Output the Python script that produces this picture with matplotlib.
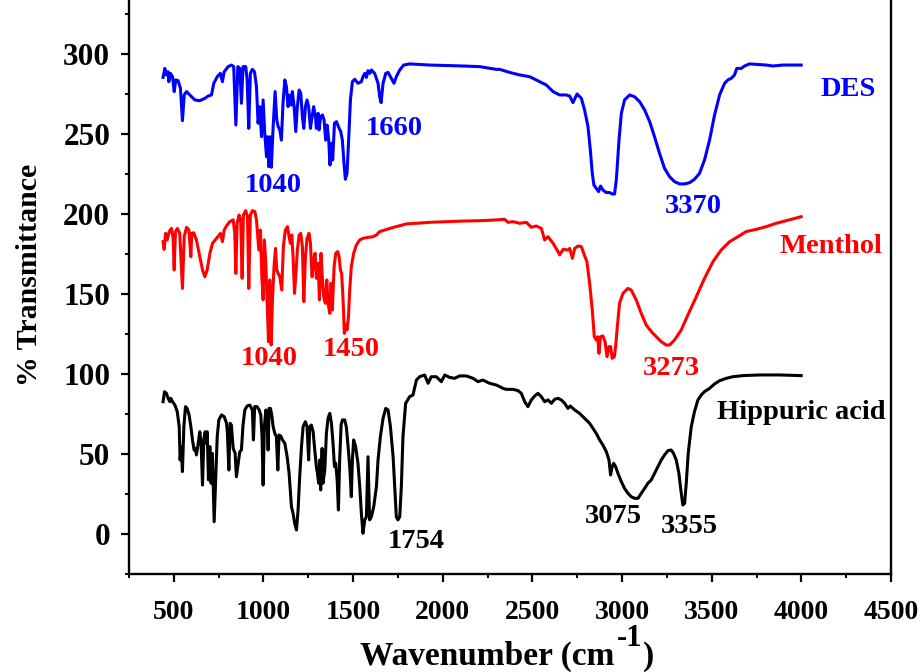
import matplotlib
matplotlib.use("Agg")
import matplotlib.pyplot as plt
from matplotlib.ticker import MultipleLocator

plt.rcParams['font.family'] = ['Liberation Serif', 'DejaVu Serif']
plt.rcParams['font.weight'] = 'bold'

# ---------------- data (wavenumber cm-1, % transmittance, offset as plotted) ----------------
des_wn = [440, 450, 459, 468, 472, 481, 493, 502, 511, 524, 537, 548, 558, 571, 589, 617, 645, 673,
          691, 710, 723, 742, 760, 771, 781, 803, 821, 834, 846, 857, 868, 877, 886, 901, 909, 918,
          927, 938, 950, 961, 970, 979, 989, 998, 1007, 1017, 1022, 1030, 1037, 1044, 1054, 1065,
          1074, 1082, 1091, 1100, 1109, 1119, 1128, 1137, 1147, 1156, 1161, 1171, 1180, 1189, 1199,
          1208, 1217, 1225, 1234, 1243, 1252, 1262, 1271, 1280, 1290, 1295, 1305, 1310, 1319, 1329,
          1338, 1347, 1355, 1364, 1371, 1379, 1386, 1396, 1407, 1422, 1431, 1440, 1449, 1457, 1466,
          1475, 1485, 1496, 1509, 1527, 1546, 1555, 1565, 1574, 1583, 1593, 1602, 1620, 1639, 1648,
          1656, 1667, 1682, 1695, 1713, 1728, 1741, 1760, 1782, 1815, 1927, 2113, 2206, 2299,
          2318, 2373, 2429, 2485, 2541, 2578, 2615, 2652, 2689, 2708, 2726, 2749, 2773, 2791, 2810,
          2823, 2834, 2843, 2856, 2869, 2880, 2893, 2912, 2931, 2945, 2958, 2968, 2983, 2996, 3014,
          3042, 3070, 3098, 3126, 3154, 3181, 3209, 3237, 3265, 3293, 3321, 3349, 3377, 3404, 3432,
          3460, 3488, 3516, 3544, 3572, 3590, 3609, 3627, 3640, 3665, 3683, 3711, 3804, 3841, 3897,
          3999]
des_t = [285.4, 291.0, 286.9, 288.9, 282.7, 287.9, 285.8, 276.5, 283.8, 283.3, 278.5, 258.3, 274.4,
         276.5, 274.4, 271.3, 270.8, 272.3, 273.7, 274.4, 281.7, 285.8, 287.9, 282.7, 288.9, 292.1,
         293.1, 292.1, 255.6, 292.1, 291.0, 269.2, 292.1, 292.1, 283.8, 253.5, 287.9, 290.4, 288.9,
         279.6, 256.7, 267.1, 248.3, 271.3, 250.4, 235.8, 248.3, 229.6, 248.3, 229.2, 254.6, 276.5,
         258.8, 254.6, 252.5, 246.2, 269.2, 283.8, 279.6, 267.1, 274.4, 268.1, 276.5, 267.1, 251.5,
         267.1, 277.5, 275.4, 260.8, 253.5, 267.1, 271.3, 267.1, 253.5, 260.8, 267.1, 260.8, 253.5,
         262.9, 252.5, 260.8, 261.9, 258.8, 246.2, 255.6, 246.2, 230.6, 244.2, 233.8, 256.7, 257.7,
         253.5, 251.5, 246.2, 231.7, 221.7, 225.4, 246.2, 271.3, 282.7, 284.2, 281.7, 282.7, 285.8,
         287.9, 285.4, 289.6, 287.9, 290.0, 287.9, 281.7, 273.3, 269.6, 281.7, 287.9, 288.5, 284.8,
         281.7, 285.8, 290.0, 293.1, 293.8, 293.1, 292.5, 292.1, 290.4,
         290.4, 288.5, 286.9, 285.8, 282.7, 280.6, 276.5, 274.4, 274.4, 273.7, 269.6, 275.0, 272.3,
         265.0, 254.6, 240.0, 225.4, 218.1, 216.0, 214.0, 217.5, 215.0, 213.4, 213.4, 212.5, 212.5,
         221.3, 246.2, 262.9, 271.3, 274.4, 273.3, 270.2, 265.0, 257.7, 248.3, 237.9, 228.5, 223.3,
         220.2, 218.8, 218.8, 219.6, 221.7, 225.4, 233.8, 246.2, 261.9, 274.4, 281.7, 283.8, 284.8,
         286.9, 291.0, 291.0, 292.5, 293.8, 293.1, 292.5, 293.1, 293.1]

menthol_wn = [440, 446, 454, 463, 474, 487, 496, 502, 509, 520, 533, 548, 558, 571, 584, 595, 600,
              611, 626, 645, 660, 673, 686, 701, 716, 738, 760, 771, 781, 797, 812, 831, 840, 846,
              853, 864, 873, 881, 888, 901, 911, 918, 927, 938, 952, 961, 974, 983, 991, 998, 1005,
              1013, 1020, 1028, 1035, 1043, 1050, 1059, 1067, 1074, 1082, 1091, 1102, 1111, 1122,
              1134, 1143, 1150, 1158, 1165, 1173, 1180, 1189, 1199, 1208, 1217, 1225, 1234, 1243,
              1254, 1262, 1271, 1280, 1288, 1295, 1305, 1312, 1321, 1329, 1336, 1345, 1353, 1360,
              1370, 1377, 1384, 1394, 1403, 1414, 1422, 1429, 1436, 1444, 1451, 1459, 1466, 1474,
              1481, 1490, 1503, 1518, 1537, 1555, 1583, 1611, 1630, 1648, 1676, 1704, 1741, 1797,
              1853, 1927, 2020, 2113, 2206, 2299,
              2345, 2364, 2392, 2429, 2466, 2494, 2522, 2550, 2568, 2587, 2615, 2643, 2652, 2671,
              2698, 2708, 2723, 2736, 2754, 2773, 2786, 2804, 2819, 2834, 2845, 2856, 2864, 2871,
              2880, 2893, 2905, 2916, 2927, 2936, 2945, 2957, 2964, 2972, 2986, 3005, 3033, 3051,
              3079, 3107, 3135, 3163, 3191, 3219, 3246, 3265, 3293, 3330, 3367, 3414, 3460, 3507,
              3553, 3600, 3646, 3692, 3748, 3804, 3860, 3915, 3999]
menthol_t = [182.7, 177.9, 187.9, 183.8, 189.0, 191.0, 184.8, 165.0, 189.0, 191.0, 187.9, 153.5,
             185.8, 191.7, 190.0, 173.3, 187.9, 188.3, 183.8, 173.3, 165.0, 160.8, 165.0, 175.4,
             181.7, 184.8, 187.9, 182.7, 190.0, 193.1, 195.2, 196.3, 187.9, 162.9, 194.2, 199.4,
             196.3, 159.8, 199.4, 202.1, 198.3, 153.5, 199.4, 202.1, 201.5, 196.3, 177.5, 190.0,
             160.8, 146.3, 183.8, 169.2, 146.3, 120.2, 158.8, 118.1, 146.3, 167.1, 178.5, 165.0,
             162.9, 160.8, 152.5, 179.6, 190.0, 192.1, 185.8, 181.7, 186.9, 173.3, 150.4, 160.8,
             177.5, 186.9, 187.9, 179.6, 145.2, 173.3, 184.8, 187.9, 181.7, 160.8, 171.3, 175.4,
             159.8, 169.2, 146.3, 175.4, 158.8, 148.3, 144.2, 158.8, 144.2, 137.9, 156.7, 140.0,
             167.1, 175.4, 176.5, 173.3, 165.0, 162.9, 146.3, 125.4, 130.6, 127.5, 135.8, 152.5,
             167.1, 175.4, 180.6, 183.8, 184.8, 185.4, 185.8, 186.9, 189.0, 190.0, 191.0, 192.1,
             193.8, 194.2, 194.8, 195.2, 195.6, 195.8, 196.3,
             196.7, 194.8, 195.2, 194.2, 194.8, 191.7, 192.5, 191.0, 183.8, 185.8, 181.7, 176.5,
             174.4, 177.9, 177.5, 178.5, 172.3, 178.5, 180.0, 179.6, 175.4, 170.2, 156.7, 140.0,
             123.3, 121.3, 123.3, 112.9, 123.3, 123.8, 120.2, 110.8, 117.1, 117.1, 109.8, 110.8,
             117.1, 127.5, 144.2, 150.4, 153.5, 152.5, 146.3, 137.9, 130.6, 126.5, 123.3, 120.2,
             118.1, 118.1, 121.3, 127.5, 136.9, 148.3, 159.8, 170.2, 177.5, 182.7, 185.8, 189.0,
             190.4, 192.1, 194.2, 195.8, 198.3]

hippuric_wn = [440, 448, 459, 468, 478, 483, 493, 506, 519, 530, 535, 541, 548, 556, 565, 574, 585,
               595, 604, 613, 621, 626, 636, 645, 652, 660, 667, 675, 680, 686, 693, 701, 708, 715,
               725, 732, 742, 751, 766, 781, 794, 799, 807, 814, 821, 831, 842, 849, 859, 868, 877,
               886, 896, 909, 924, 938, 944, 951, 964, 976, 985, 992, 998, 1005, 1013, 1020, 1026,
               1031, 1039, 1046, 1054, 1063, 1072, 1080, 1087, 1096, 1106, 1119, 1132, 1143, 1156,
               1165, 1174, 1184, 1193, 1202, 1212, 1221, 1234, 1243, 1252, 1258, 1267, 1277, 1286,
               1295, 1301, 1308, 1314, 1319, 1327, 1332, 1342, 1351, 1360, 1370, 1379, 1388, 1396,
               1403, 1411, 1418, 1425, 1433, 1440, 1453, 1462, 1472, 1481, 1490, 1496, 1503, 1514,
               1527, 1537, 1546, 1555, 1565, 1574, 1583, 1592, 1602, 1615, 1630, 1639, 1652, 1667,
               1682, 1695, 1708, 1723, 1734, 1741, 1750, 1760, 1769, 1778, 1793, 1815, 1834, 1853,
               1871, 1899, 1918, 1936, 1964, 1992, 2011, 2038, 2066, 2094, 2131, 2169, 2196, 2224,
               2261, 2299,
               2318, 2336, 2355, 2392, 2420, 2438, 2457, 2475, 2494, 2513, 2531, 2550, 2568, 2587,
               2606, 2624, 2643, 2661, 2680, 2698, 2711, 2736, 2763, 2791, 2819, 2838, 2856, 2875,
               2893, 2912, 2927, 2936, 2945, 2953, 2964, 2977, 2996, 3014, 3033, 3051, 3070, 3089,
               3107, 3126, 3144, 3163, 3181, 3200, 3219, 3237, 3256, 3274, 3287, 3302, 3317, 3328,
               3339, 3349, 3358, 3369, 3386, 3404, 3423, 3442, 3460, 3488, 3516, 3544, 3581, 3618,
               3674, 3767, 3878, 3999]
hippuric_t = [82.7, 88.9, 87.9, 84.8, 82.7, 84.8, 82.7, 80.6, 76.5, 67.1, 46.3, 54.6, 39.0, 67.1,
              79.6, 78.5, 74.4, 67.1, 58.8, 52.5, 53.5, 49.4, 56.7, 63.9, 56.7, 30.6, 58.8, 63.9,
              56.7, 63.9, 33.8, 54.6, 31.7, 50.4, 7.7, 29.6, 60.8, 71.3, 74.4, 73.3, 69.2, 62.9,
              40.0, 69.2, 68.1, 53.5, 50.4, 35.8, 44.2, 51.5, 52.5, 68.1, 77.5, 80.0, 80.6, 77.5,
              58.8, 79.6, 79.6, 77.5, 74.4, 60.8, 30.6, 67.1, 77.5, 73.3, 52.5, 78.5, 78.5, 74.4,
              67.1, 62.9, 60.8, 40.0, 61.9, 61.3, 58.8, 56.7, 48.3, 37.9, 17.1, 12.9, 6.7, 2.5,
              15.0, 35.8, 54.6, 67.1, 70.2, 67.1, 46.3, 67.1, 68.1, 63.9, 52.5, 42.1, 37.9, 31.7,
              46.3, 27.5, 53.5, 31.7, 40.0, 62.9, 72.3, 75.4, 69.2, 56.7, 42.1, 44.2, 33.8, 15.0,
              46.3, 68.1, 71.3, 71.3, 67.1, 54.6, 42.1, 23.3, 46.3, 58.8, 54.6, 44.2, 29.6, 12.9,
              0.4, 8.8, 10.8, 48.3, 8.8, 10.8, 17.1, 29.6, 46.3, 60.8, 72.3, 78.5, 77.5, 67.1,
              48.3, 25.4, 10.8, 8.8, 10.8, 29.6, 60.8, 81.7, 85.8, 86.9, 96.2, 98.3, 99.4, 94.2,
              98.3, 98.3, 95.2, 99.4, 97.9, 97.3, 98.8, 98.8, 97.3, 95.2, 96.2, 94.2, 93.1,
              92.1, 91.0, 90.4, 90.4, 89.6, 87.9, 82.7, 79.6, 83.8, 86.3, 87.9, 85.8, 82.7, 83.8,
              81.7, 84.2, 84.8, 83.8, 81.7, 78.5, 80.0, 77.5, 75.4, 72.3, 69.2, 66.0, 62.9, 58.8,
              55.6, 51.5, 46.3, 36.9, 42.1, 44.2, 42.1, 37.9, 32.7, 28.5, 25.4, 23.3, 22.3, 22.3,
              25.4, 28.5, 31.7, 33.8, 37.9, 42.1, 46.3, 49.4, 52.1, 52.5, 50.4, 46.3, 37.9, 27.5,
              18.1, 19.2, 31.7, 50.4, 67.1, 76.5, 83.8, 86.9, 89.0, 91.0, 93.8, 95.8, 97.3, 98.3,
              99.0, 99.4, 99.4, 99.0]

series_names = ["DES", "Menthol", "Hippuric acid"]
series_colors = ["#0000ff", "#ff0000", "#000000"]

# peak annotations: (text, wavenumber, value, colour index)
peak_labels = ["1040", "1660", "3370", "1040", "1450", "3273", "1754", "3075", "3355"]
peak_x = [1056, 1727, 3395, 1035, 1491, 3275, 1853, 2949, 3377]
peak_y = [218, 253.7, 204.6, 109.4, 115, 103.5, -4.8, 10.8, 4.6]
peak_series = [0, 0, 0, 1, 1, 1, 2, 2, 2]

name_x = [4263, 4163, 4001]
name_y = [277.7, 179.6, 76.2]

xticks = [500, 1000, 1500, 2000, 2500, 3000, 3500, 4000, 4500]
yticks = [0, 50, 100, 150, 200, 250, 300]

# ---------------- figure ----------------
W, H = 922, 672
fig = plt.figure(figsize=(W / 100, H / 100), dpi=100)
ax = fig.add_axes([129 / W, (H - 574) / H, (891 - 129) / W, 574 / H])

lw = 2.2
ax.plot(hippuric_wn, hippuric_t, color=series_colors[2], lw=lw, solid_joinstyle='round')
ax.plot(menthol_wn, menthol_t, color=series_colors[1], lw=lw, solid_joinstyle='round')
ax.plot(des_wn, des_t, color=series_colors[0], lw=lw, solid_joinstyle='round')

ax.set_xlim(250, 4500)
ax.set_ylim(-25, 333.75)

ax.spines['top'].set_visible(False)
for s in ['left', 'bottom', 'right']:
    ax.spines[s].set_linewidth(1.7)

ax.set_xticks(xticks)
ax.set_yticks(yticks)
ax.xaxis.set_minor_locator(MultipleLocator(250))
ax.yaxis.set_minor_locator(MultipleLocator(25))
ax.tick_params(which='major', direction='out', length=5.5, width=1.6, top=False, right=False)
ax.tick_params(which='minor', direction='out', length=3, width=1.4, top=False, right=False)
ax.tick_params(axis='x', which='major', labelsize=20, pad=13)
ax.tick_params(axis='y', which='major', labelsize=22.5, pad=8)
for lab in ax.get_xticklabels() + ax.get_yticklabels():
    lab.set_fontweight('bold')

ax.set_ylabel('% Transmittance', fontsize=21.5, fontweight='bold')
ax.yaxis.set_label_coords(-0.113, 0.521)

# x label built from pieces so the superscript keeps a plain hyphen
t1 = fig.text(360 / W, (H - 665) / H, 'Wavenumber (cm', fontsize=24, fontweight='bold',
              va='baseline', ha='left')
t2 = ax.annotate('-1', xy=(1, 1), xycoords=t1, xytext=(1.5, 12), textcoords='offset points',
                 fontsize=22, fontweight='bold', ha='left', va='top', annotation_clip=False)
t3 = ax.annotate(')', xy=(1, 0), xycoords=(t2, t1), xytext=(1, 0), textcoords='offset points',
                 fontsize=24, fontweight='bold', ha='left', va='bottom', annotation_clip=False)

for t, x, y, si in zip(peak_labels, peak_x, peak_y, peak_series):
    ax.text(x, y, t, color=series_colors[si], fontsize=20.5, fontweight='bold',
            ha='center', va='center')
for t, x, y, c in zip(series_names, name_x, name_y, series_colors):
    ax.text(x, y, t, color=c, fontsize=20.5, fontweight='bold', ha='center', va='center',
            clip_on=False)

fig.savefig('out.png', dpi=100)
